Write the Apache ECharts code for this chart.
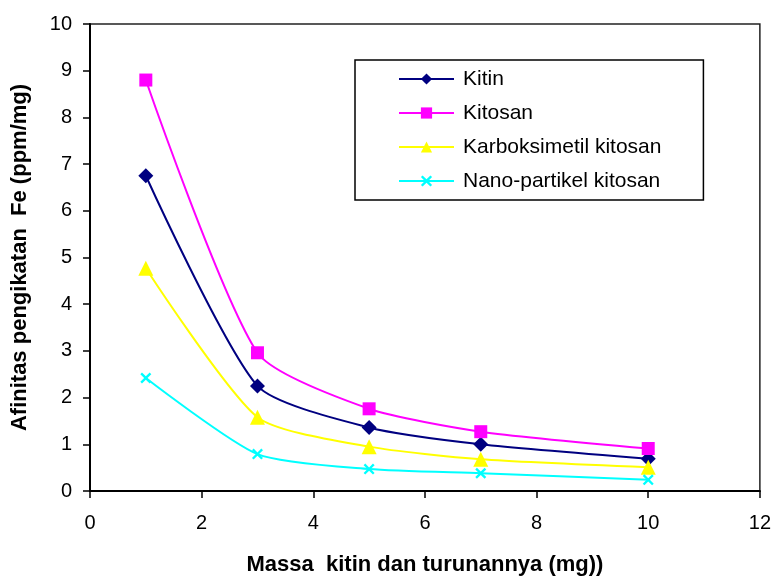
<!DOCTYPE html>
<html>
<head>
<meta charset="utf-8">
<script src="https://cdn.jsdelivr.net/npm/echarts@6/dist/echarts.min.js"></script>
<style>
  html, body { margin: 0; padding: 0; background: #fff; }
  #chart { width: 774px; height: 581px; }
</style>
</head>
<body>
<div id="chart"></div>
<script>
// Massa (mg) and binding affinity for Fe (ppm/mg)
const massa = [1, 3, 5, 7, 10];
const kitin = [6.75, 2.25, 1.36, 1.00, 0.69];
const kitosan = [8.80, 2.96, 1.76, 1.27, 0.91];
const karboksimetil = [4.77, 1.58, 0.95, 0.68, 0.51];
const nanoPartikel = [2.42, 0.79, 0.47, 0.38, 0.24];
const seriesNames = ['Kitin', 'Kitosan', 'Karboksimetil kitosan', 'Nano-partikel kitosan'];

const xSymbol = 'path://M0,1.5L1.5,0L5,3.5L8.5,0L10,1.5L6.5,5L10,8.5L8.5,10L5,6.5L1.5,10L0,8.5L3.5,5Z';

function pairs(values) {
  return massa.map((m, i) => [m, values[i]]);
}

function lineSeries(name, values, color, symbol, size) {
  return {
    name: name,
    type: 'line',
    data: pairs(values),
    smooth: 0.22,
    symbol: symbol,
    symbolSize: size,
    lineStyle: { color: color, width: 2 },
    itemStyle: { color: color },
    emphasis: { disabled: true }
  };
}

const chart = echarts.init(document.getElementById('chart'));
const font = 'Arial, "Liberation Sans", sans-serif';
chart.setOption({
  animation: false,
  textStyle: { fontFamily: font },
  grid: {
    left: 90, right: 14, top: 24, bottom: 90,
    show: true, borderColor: '#222', borderWidth: 1.5, backgroundColor: 'transparent'
  },
  xAxis: {
    type: 'value', min: 0, max: 12, interval: 2,
    name: 'Massa  kitin dan turunannya (mg))',
    nameLocation: 'middle', nameGap: 63,
    nameTextStyle: { fontSize: 22, fontWeight: 'bold', color: '#000', fontFamily: font },
    axisLine: { lineStyle: { color: '#000', width: 2 } },
    axisTick: { show: true, length: 7, lineStyle: { color: '#000', width: 1.5 } },
    axisLabel: { fontSize: 20, color: '#000', margin: 22, fontFamily: font },
    splitLine: { show: false }
  },
  yAxis: {
    type: 'value', min: 0, max: 10, interval: 1,
    name: 'Afinitas pengikatan  Fe (ppm/mg)',
    nameLocation: 'middle', nameGap: 59, nameRotate: 90,
    nameTextStyle: { fontSize: 22, fontWeight: 'bold', color: '#000', fontFamily: font },
    axisLine: { show: true, lineStyle: { color: '#000', width: 2 } },
    axisTick: { show: true, length: 7, lineStyle: { color: '#000', width: 1.5 } },
    axisLabel: { fontSize: 20, color: '#000', margin: 18, fontFamily: font },
    splitLine: { show: false }
  },
  legend: {
    orient: 'vertical',
    left: 355, top: 60,
    padding: [8, 42, 8, 43],
    itemWidth: 55, itemHeight: 14, itemGap: 12,
    borderColor: '#000', borderWidth: 1.5, borderRadius: 0,
    backgroundColor: '#fff',
    textStyle: { fontSize: 21, lineHeight: 22, color: '#000', fontFamily: font, padding: [0, 0, 0, 4] },
    data: seriesNames
  },
  series: [
    lineSeries(seriesNames[0], kitin, '#000080', 'diamond', 15),
    lineSeries(seriesNames[1], kitosan, '#FF00FF', 'rect', 13),
    lineSeries(seriesNames[2], karboksimetil, '#FFFF00', 'triangle', 15),
    lineSeries(seriesNames[3], nanoPartikel, '#00FFFF', xSymbol, 11)
  ]
});
</script>
</body>
</html>
